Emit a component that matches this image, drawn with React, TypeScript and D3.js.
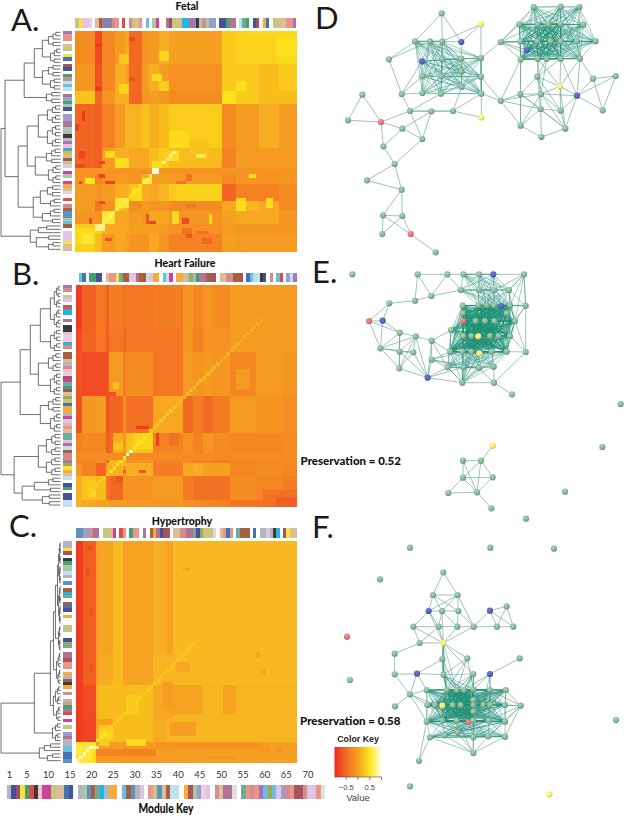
import React from "react";
import * as d3 from "d3";

// ---------- palette for module colour strips ----------
const paletteCodes: Record<string, string> = {
  a: "#a9adb8", n: "#2e3a8c", m: "#8c3a5e", y: "#f5e020", g: "#1f9a5a", r: "#d9352e", k: "#231f20",
  p: "#f3b5d0", c: "#c8288f", o: "#bfc06a", t: "#d8b48a", b: "#2860a8", s: "#5ab5e0", e: "#9fc0a0",
  l: "#b7dcec", w: "#ffffff", d: "#9a4a25", O: "#f5a020", C: "#00aee0", i: "#d9bfe0", h: "#d07b7e",
  v: "#a85f85", T: "#5f9f8d", G: "#8f9f3c", P: "#a05fb0", S: "#e8867a", R: "#9a3d45", A: "#dcdce0",
  M: "#efc8dc", Q: "#8c93c5", B: "#4a82b8",
};
const moduleKeyColors = "anmygrkpccottbnwaeBdTCaOOwsdBaiwSoBtdllwOReQMiwhtvvAwTShSPsGsiQhSRRhiiSA".split("");
const moduleTicks = [1, 5, 10, 15, 20, 25, 30, 35, 40, 45, 50, 55, 60, 65, 70];

const fetalTop = "oypiMwtdvBvhSwrwhotSwswecwwvmotoCCvPkeheQQwnngvvwlTgwnRwObwoottSSP".split("");
const fetalSide = "PSSwtowybwRnwghlslwvQgenwQQvveakePpCOoRoiwcewcOtMwrwhdBBesdwiiiytt".split("");
const failTop = "wsbwggnnwtSSyTddiivddliOOwslcwOOteGagvvdRRwtthhddRwbsllknwhwsrwQlP".split("");
const failSide = "PhwtiwrCCwvwkkiMMChwddtahpMRcTgRtGobOOacitStTTivldhhvGyOtlwngwnnll".split("");
const hyperTop = "BBQQhvvwootcwrSwgSSwvwdOvnRRwtthhvvTnGoooMwtSbSwTdddwbwaaiakCwRytt".split("");
const hyperSide = "aayRwkgeelawBwdCTwdbnwOwwoowwnGTwvvRSSwOadkOwhwaSgPrwcwowQvaassbbB".split("");

// ---------- heatmap values: block sizes (in cells) and values read by eye ----------
const fetalCols = [6, 2, 4, 3, 1, 4, 2, 3, 3, 16, 4, 7, 6, 5];
const fetalRows = [10, 8, 4, 13, 6, 2, 3, 5, 3, 4, 3, 5];
const fetalBlocks = [
  [-.2, -.75, -.25, -.05, .05, -.5, -.1, -.05, .1, .0, .3, .35, .35, .4],
  [-.1, -.7, -.25, .1, 0, -.5, -.05, .1, -.05, -.15, .3, .3, .2, .3],
  [.25, -.5, -.1, .1, .1, -.55, -.1, -.05, -.1, -.2, .42, .3, .2, .2],
  [-.55, -.6, -.3, -.05, .12, .15, .25, .1, .2, .32, -.2, -.05, .1, -.05],
  [-.55, -.6, -.05, .1, .1, .05, .05, .2, .3, .2, -.3, -.05, -.05, -.05],
  [-.1, -.2, -.1, .1, .1, -.05, -.05, .3, .3, -.1, -.2, -.1, -.1, -.1],
  [-.1, -.3, -.1, -.05, -.05, -.1, .05, -.05, .0, -.05, -.2, -.1, -.15, -.1],
  [-.05, -.1, -.05, .1, .1, .25, .1, .05, .15, .28, -.55, -.3, -.3, -.2],
  [-.05, -.4, -.15, .25, .1, -.2, -.05, -.1, -.1, -.2, .05, .15, .05, -.2],
  [-.1, -.15, .2, .05, .05, -.05, -.1, .05, .05, -.1, 0, .05, .05, -.1],
  [.3, .35, .05, .05, .05, .0, .0, .0, -.05, -.15, -.05, -.1, -.1, -.1],
  [.35, .2, -.05, .05, .0, -.1, -.15, .05, -.1, -.3, .0, -.05, -.05, -.05],
];
// patches: first row, row count, first column, column count, value
const fetalPatches = [
  [6, 3, 25, 3, .38], [13, 2, 23, 3, .42], [7, 3, 13, 3, .28], [16, 3, 13, 3, .36], [15, 3, 25, 3, .32],
  [18, 4, 44, 4, .48], [15, 3, 48, 3, .45], [0, 2, 52, 14, .4], [2, 6, 60, 6, .45], [36, 2, 9, 3, .42],
  [38, 3, 12, 4, .45], [44, 2, 3, 3, .5], [44, 2, 20, 3, .55], [47, 4, 17, 3, .42], [50, 3, 12, 4, .55],
  [54, 4, 8, 4, .55], [54, 4, 29, 2, .42], [55, 3, 40, 1, .45], [50, 4, 48, 3, .42], [50, 3, 57, 2, .42],
  [41, 3, 52, 2, .45], [39, 3, 23, 3, .42], [36, 3, 28, 3, .45], [37, 1, 36, 3, .6], [30, 5, 28, 6, .42],
  [33, 4, 34, 6, .25], [59, 5, 0, 6, .42], [61, 3, 2, 3, .55], [58, 2, 6, 3, .75], [46, 5, 30, 14, .36],
  [56, 2, 32, 2, -.75], [61, 1, 33, 2, -.7], [62, 2, 38, 3, -.55], [57, 1, 21, 3, -.8], [56, 2, 4, 1, -.75],
  [45, 1, 9, 3, -.8], [51, 1, 7, 2, -.75], [43, 1, 7, 2, -.8], [45, 1, 1, 1, -.8], [36, 2, 1, 2, -.8],
  [39, 1, 7, 2, -.8], [62, 1, 9, 2, -.7], [55, 3, 21, 1, -.7], [59, 2, 32, 3, -.45], [40, 2, 0, 3, -.75],
  [43, 2, 33, 2, -.45], [45, 1, 30, 3, -.4], [52, 1, 33, 3, -.4], [2, 1, 16, 2, -.8], [14, 1, 16, 2, -.7],
  [4, 1, 6, 2, -.9], [17, 1, 6, 2, -.9], [24, 3, 2, 1, -.85], [28, 2, 0, 1, -.85], [60, 1, 36, 4, -.45],
  [41, 1, 0, 66, -.1], [42, 1, 0, 66, -.15],
  [41, 2, 23, 2, .95],
];
// anti-diagonal runs: first column, last column, value
const fetalDiagonal = [[6, 8, .8], [8, 12, .7], [12, 16, .65], [16, 20, .5], [20, 23, .7], [23, 25, 1], [26, 30, .8]];

const failCols = [2, 4, 3, 1, 4, 1, 8, 9, 3, 3, 3, 5, 8, 8, 4];
const failRows = [13, 7, 13, 11, 6, 3, 4, 7, 2];
const failBlocks = [
  [-.85, -.6, -.4, -.6, -.35, -.45, -.4, -.35, -.15, -.25, -.12, -.2, -.05, -.05, -.05],
  [-.75, -.55, -.4, -.6, -.4, -.5, -.4, -.4, -.1, -.3, -.15, -.15, -.05, -.05, -.05],
  [-.7, -.75, -.75, -.7, -.05, -.35, -.2, -.4, -.05, -.1, -.05, -.1, -.25, -.05, -.1],
  [-.7, -.1, -.05, -.7, -.55, -.2, -.45, .05, -.5, -.35, -.5, -.35, -.05, -.12, -.18],
  [-.3, -.25, -.25, -.6, .1, -.1, .25, -.3, -.15, -.3, -.1, -.2, -.25, -.25, -.2],
  [-.25, -.25, -.2, -.5, -.1, -.1, -.1, -.3, -.2, -.3, -.25, -.35, -.25, -.25, -.2],
  [-.1, -.3, -.55, .05, .1, -.15, .1, -.35, .05, .1, .0, .0, -.25, -.2, -.25],
  [.12, .25, .2, -.4, -.5, -.1, -.15, -.05, -.35, -.45, -.45, -.45, -.2, -.25, -.35],
  [.1, .05, .0, .05, -.05, -.05, -.05, -.1, -.15, -.2, -.25, -.3, -.4, -.45, -.6],
];
const failPatches = [
  [44, 5, 17, 6, .35], [42, 1, 18, 4, -.85], [44, 4, 24, 1, -.85], [50, 1, 26, 1, -.75], [50, 1, 29, 1, -.75],
  [50, 1, 36, 2, -.6], [55, 1, 19, 2, -.65], [55, 1, 14, 1, -.65], [44, 6, 10, 1, -.5], [50, 1, 9, 1, -.7],
  [44, 4, 28, 3, -.45], [50, 2, 0, 66, -.2], [58, 5, 3, 3, .3], [60, 3, 4, 2, .4], [47, 2, 11, 3, .25],
  [53, 3, 3, 3, -.3], [32, 1, 9, 3, -.7], [29, 2, 11, 2, .2], [52, 2, 10, 5, .15], [61, 4, 56, 10, -.45],
  [63, 3, 60, 6, -.6], [25, 6, 48, 4, -.05], [57, 2, 12, 2, -.7],
];
const failDiagonal = [[4, 10, .3], [10, 15, .45], [15, 17, .95], [17, 22, .5], [22, 30, .32], [30, 42, .2], [42, 56, .12]];

const hyperCols = [2, 4, 1, 4, 3, 9, 4, 2, 37];
const hyperRows = [34, 9, 10, 7, 6];
const hyperBlocks = [
  [-.85, -.6, -.03, .02, .17, .02, .1, .02, .17],
  [-.85, -.6, -.02, .08, .17, .02, .14, .14, .17],
  [-.85, -.75, .12, .2, .2, .2, .05, .02, .15],
  [-.85, -.8, .08, .28, .2, .2, .08, .14, .15],
  [.5, .4, -.03, -.03, -.03, -.08, -.03, -.03, .0],
];
const hyperPatches = [
  [43, 9, 29, 9, .02], [43, 9, 44, 4, .02], [56, 3, 7, 4, .38], [59, 2, 15, 6, .42], [59, 2, 7, 3, .3],
  [60, 2, 24, 32, -.12], [62, 2, 6, 18, -.3], [53, 2, 6, 5, -.03], [60, 6, 0, 5, .55], [61, 1, 4, 3, .8],
  [54, 4, 28, 8, -.03], [42, 8, 26, 3, -.03], [46, 6, 15, 4, .3], [36, 3, 30, 4, .05], [37, 2, 4, 1, -.7],
  [8, 1, 32, 2, .02], [33, 2, 54, 1, .02], [38, 2, 55, 2, .02], [61, 2, 56, 2, -.1], [61, 2, 60, 2, -.1],
  [64, 1, 40, 8, -.1], [1, 2, 3, 2, -.7], [20, 2, 4, 1, -.7], [8, 2, 3, 1, -.75],
];
const hyperDiagonal = [[0, 5, .95], [5, 9, .55], [9, 16, .35], [16, 24, .32], [24, 36, .28]];

// ---------- dendrograms: [merge position, children...] ; [merge position, leaf count] ----------
const fetalTree: any = [1, [5, [24, [34, [42, [48, 5], [50, 5]], [42, [48, 4], [50, 4]]], [46, 4]],
  [18, [27, [38, [47, 6], [47, 7]], [35, [46, 5], [48, 6]]], [33, [40, [47, 4], [50, 3]], [42, [50, 3], [52, 2]]]]],
  [30, [38, 3], [36, [48, 2], [48, 3]]]];
const failTree: any = [1, [20, [30, [40, [50, 13], [50, 7]], [38, [48, 6], [50, 7]]], [40, [48, 5], [50, 6]]],
  [14, [38, [46, 7], [46, 6]], [22, [34, [48, 3], [50, 2]], [42, 4]]]];
const hyperTree: any = [1, [34, [50, [53, [55, [57, 25], [58, 8]], [56, 10]], [53, [55, 6], [56, 5]]], [52, 6]],
  [39, [44, 3], [47, 3]]];

// ---------- networks: node positions in crop units, colour class, edges ----------
const nodeColors: Record<string, string> = { g: "#84b394", b: "#5a62b4", r: "#e0757c", y: "#f6ea70" };

const dX = [395,513,315,360,397,454,237,336,396,454,513,337,395,454,513,275,337,393,455,514,300,364,429,514,157,114,213,277,337,220,254,171,275,219,277,217,302,377,572,572,671,752,808,628,683,715,752,820,631,682,722,752,800,857,650,632,683,710,752,810,682,849,917,750,631,693,801,878,692,752,632,766,694];
const dY = [40,73,124,124,124,126,178,184,178,176,174,229,229,214,230,282,279,281,261,281,333,334,333,352,284,361,366,386,417,439,492,541,569,646,648,702,702,757,126,302,21,20,21,73,73,73,72,74,124,124,124,124,124,124,150,178,176,176,176,176,230,236,228,259,282,282,287,331,327,332,377,386,411];
const dKindsFixed = dX.map((_, i) => (i === 5 || i === 7 || i === 54 || i === 66 ? "b" : i === 26 || i === 36 ? "r" : i === 1 || i === 23 || i === 63 ? "y" : "g"));
const dEdges = [[0,2],[0,4],[0,5],[1,5],[1,10],[1,4],[2,3],[3,4],[4,5],[5,9],[2,6],[6,3],[6,15],[15,20],[15,16],[15,7],[15,11],[20,21],[20,22],[20,26],[20,17],[21,22],[22,19],[22,18],[21,28],[27,21],[26,27],[26,25],[26,24],[24,25],[26,29],[27,29],[27,28],[20,28],[29,30],[28,30],[30,31],[30,32],[31,32],[32,33],[32,34],[33,34],[33,35],[33,36],[34,36],[35,34],[36,37],[19,23],[10,14],[14,19],[10,38],[19,39],[14,39],[10,19],[22,23],[38,40],[38,43],[38,48],[38,49],[38,50],[38,51],[38,55],[38,56],[38,54],[38,44],[39,55],[39,64],[39,65],[39,70],[39,68],[55,64],[55,70],[56,60],[60,65],[60,64],[64,65],[65,66],[63,66],[65,63],[64,68],[64,70],[64,71],[65,68],[65,69],[65,70],[65,71],[68,69],[68,70],[68,71],[68,72],[69,71],[70,72],[71,72],[69,66],[66,71],[63,69],[63,71],[60,63],[58,63],[56,63],[59,61],[59,63],[61,62],[61,66],[61,67],[62,66],[62,67],[66,67],[59,66],[52,59],[58,66],[60,69],[60,68],[57,65],[56,65],[57,60],[58,60]];
const dGroups = [[2,3,4,7,8,9,10,11,12,13,14,16,17,18,19],[40,41,42,43,44,45,46,47,48,49,50,51,52,53,54,55,56,57,58,59]];
const dCores = [[43,44,45,46,49,50,51,56,57,58,48,55]];

const eX = [127,323,412,460,507,550,642,452,507,552,597,364,315,238,505,530,552,574,600,647,458,458,177,218,460,497,525,553,590,615,423,269,317,365,460,484,505,540,565,600,211,269,310,365,420,457,484,508,545,590,647,268,353,413,460,507,551,457,552,606,932,877,765,648,548,459,513,459,548,415,501,544];
const eY = [43,43,43,43,43,43,43,90,90,90,90,108,122,130,136,136,136,138,136,137,137,160,183,182,183,183,183,183,160,183,210,218,229,242,228,228,229,228,228,228,265,275,277,299,275,275,275,280,275,275,276,325,353,322,322,324,320,368,368,403,432,561,695,776,557,602,602,653,652,699,697,745];
const eKindsFixed = eX.map((_, i) => (i === 5 || i === 17 || i === 23 || i === 52 ? "b" : i === 22 || i === 24 ? "r" : i === 36 || i === 47 || i === 64 ? "y" : "g"));
const eEdges = [[1,2],[2,3],[3,4],[4,5],[5,6],[1,12],[1,11],[2,11],[2,7],[7,11],[11,12],[12,13],[13,22],[13,23],[22,23],[22,40],[22,31],[23,31],[23,40],[31,32],[31,40],[31,41],[31,51],[32,33],[32,42],[32,41],[32,40],[32,51],[32,52],[40,41],[40,42],[40,51],[41,42],[41,51],[41,52],[42,51],[42,52],[43,52],[33,43],[33,52],[33,53],[33,44],[33,30],[43,53],[43,44],[43,54],[51,52],[52,57],[52,53],[52,54],[53,57],[54,57],[55,57],[56,58],[57,58],[58,59],[55,58],[50,58],[6,10],[6,19],[6,9],[19,18],[19,17],[19,29],[19,50],[29,50],[49,50],[39,50],[24,30],[30,53],[30,44],[43,45],[43,55],[65,66],[65,67],[65,70],[66,67],[66,68],[66,70],[67,68],[67,69],[67,70],[68,70],[69,70],[70,71],[66,64]];
const eGroups = [[14,15,16,17,18,20,21,24,25,26,27,28,29,30,34,35,36,37,38,39,44,45,46,47,48,49],[3,4,5,7,8,9,10,14,15,16,17,18],[44,45,46,47,48,49,53,54,55,56,57,34,35,36,37],[6,10,18,19,29]];
const eCores = [[20,21,24,25,26,27,29,34,35,36,37,38,39,14,15,16,18,44,46,48,49]];

const fX = [400,369,443,356,396,445,540,590,310,386,442,491,561,610,329,400,254,397,472,629,254,321,400,490,540,350,410,440,462,490,540,587,300,255,352,375,397,428,452,490,490,490,520,540,585,632,350,397,440,475,490,536,585,360,404,443,490,535,585,490,327,300,541,732,210,111,120,918,300,718];
const fY = [127,195,195,243,243,243,242,229,290,290,290,290,290,290,339,339,371,387,385,385,433,431,434,432,432,480,480,480,480,478,480,480,493,529,525,525,527,525,525,510,525,545,525,525,525,527,575,572,572,576,572,572,575,622,616,607,622,619,620,669,693,53,53,56,148,320,450,570,769,793];
const fKindsFixed = fX.map((_, i) => (i === 3 || i === 6 || i === 21 || i === 24 ? "b" : i === 49 || i === 65 ? "r" : i === 15 || i === 36 || i === 69 ? "y" : "g"));
const fEdges = [[0,1],[0,2],[1,2],[1,3],[1,4],[1,5],[2,3],[2,4],[2,5],[2,11],[3,4],[4,5],[3,8],[3,9],[4,9],[4,10],[5,10],[5,11],[8,9],[9,10],[10,11],[11,12],[12,13],[11,6],[6,7],[6,12],[6,13],[7,12],[7,13],[8,14],[9,14],[9,15],[10,15],[11,15],[8,15],[14,15],[4,15],[3,15],[14,16],[16,20],[20,21],[21,22],[15,17],[15,22],[15,23],[15,18],[17,22],[17,21],[19,24],[20,32],[21,32],[21,25],[32,25],[32,34],[32,46],[32,35],[33,32],[22,26],[22,27],[22,28],[18,26],[18,27],[18,29],[18,22],[23,27],[23,28],[23,29],[24,29],[24,30],[24,28],[24,42],[24,43],[45,30],[45,31],[45,43],[45,44],[45,51],[45,52],[45,57],[45,58],[59,53],[59,54],[59,55],[59,56],[59,57],[59,58],[59,48],[59,50],[60,53],[60,46],[43,31]];
const fGroups = [[25,26,27,28,29,30,31,34,35,36,37,38,39,40,41,42,43,44,46,47,48,49,50,51,52],[46,47,48,49,50,51,52,53,54,55,56,57,58],[22,23,26,27,28,29,37,38,39],[15,17,22,26,27]];
const fCores = [[26,27,28,29,36,37,38,39,40,41,47,48,49,50,35]];

const colorKeyTicks = [-0.5, 0, 0.5, 1];
const colorKeyLabels = [-0.5, 0.5];

// ---------- scales and helpers ----------
const heat = d3.scaleLinear<string>()
  .domain([-1, -.6, -.3, 0, .25, .5, .75, 1])
  .range(["#ed2a24", "#f15f24", "#f58220", "#f6a021", "#f9c31f", "#fee61e", "#fef27a", "#fffde8"])
  .clamp(true);

function expand(sizes: number[]) {
  const out: number[] = [];
  sizes.forEach((s, i) => { for (let k = 0; k < s; k++) out.push(i); });
  return out;
}

function buildCells(rows: number[], cols: number[], blocks: number[][], patches: number[][], diag: number[][]) {
  const R = expand(rows), C = expand(cols);
  const m = R.map((r) => C.map((c) => blocks[r][c]));
  patches.forEach(([r0, rn, c0, cn, v]) => {
    for (let r = r0; r < Math.min(66, r0 + rn); r++) for (let c = c0; c < Math.min(66, c0 + cn); c++) m[r][c] = v;
  });
  diag.forEach(([c0, c1, v]) => { for (let c = c0; c < c1; c++) m[65 - c][c] = v; });
  return m;
}

function toTree(spec: any): any {
  const [x, ...kids] = spec;
  if (kids.length === 1 && typeof kids[0] === "number") return split(kids[0], x);
  return { x, children: kids.map(toTree) };
}
function split(n: number, x: number): any {
  if (n === 1) return { x: 60 };
  const nx = Math.min(59.5, x + Math.max((60 - x) * 0.38, 0.6));
  return { x, children: [split(Math.ceil(n / 2), nx), split(Math.floor(n / 2), nx)] };
}

function Dendrogram({ spec, y0, y1 }: { spec: any; y0: number; y1: number }) {
  const root = d3.hierarchy(toTree(spec));
  const band = d3.scaleBand<number>().domain(d3.range(66)).range([y0, y1]);
  const xs = d3.scaleLinear().domain([0, 60]).range([0, 60.5]);
  let leaf = 0;
  const pos = new Map<any, number>();
  root.eachAfter((n: any) => {
    if (!n.children) pos.set(n, band(leaf++)! + band.bandwidth() / 2);
    else pos.set(n, (pos.get(n.children[0]) + pos.get(n.children[n.children.length - 1])) / 2);
  });
  const path = d3.path();
  root.each((n: any) => {
    if (!n.children) return;
    const px = xs(n.data.x);
    const ys = n.children.map((c: any) => pos.get(c));
    path.moveTo(px, d3.min(ys) as number);
    path.lineTo(px, d3.max(ys) as number);
    n.children.forEach((c: any) => {
      path.moveTo(px, pos.get(c));
      path.lineTo(xs(c.data.x), pos.get(c));
    });
  });
  return <path d={path.toString()} fill="none" stroke="#333" strokeWidth={0.7} />;
}

function Strip({ colors, horizontal, x0, x1, y0, y1 }: { colors: string[]; horizontal: boolean; x0: number; x1: number; y0: number; y1: number }) {
  const band = d3.scaleBand<number>().domain(d3.range(colors.length)).range(horizontal ? [x0, x1] : [y0, y1]);
  return (
    <g shapeRendering="crispEdges" style={{ opacity: 0.88 }}>
      {colors.map((c, i) => horizontal
        ? <rect key={i} x={band(i)} y={y0} width={band.bandwidth() + 0.4} height={y1 - y0} fill={paletteCodes[c]} />
        : <rect key={i} x={x0} y={band(i)} width={x1 - x0} height={band.bandwidth() + 0.4} fill={paletteCodes[c]} />)}
    </g>
  );
}

function Heat({ m, x0, x1, y0, y1 }: { m: number[][]; x0: number; x1: number; y0: number; y1: number }) {
  const xb = d3.scaleBand<number>().domain(d3.range(66)).range([x0, x1]);
  const yb = d3.scaleBand<number>().domain(d3.range(66)).range([y0, y1]);
  return (
    <g shapeRendering="crispEdges" filter="url(#soft)">
      {m.flatMap((row, r) => row.map((v, c) => (
        <rect key={`${r}-${c}`} x={xb(c)} y={yb(r)} width={xb.bandwidth() + 0.5} height={yb.bandwidth() + 0.5} fill={heat(v)} />
      )))}
    </g>
  );
}

function Network({ xs, ys, kinds, edges, groups, cores, ox, oy }: any) {
  const sx = d3.scaleLinear().domain([0, 942]).range([ox, ox + 314]);
  const sy = d3.scaleLinear().domain([0, 780]).range([oy, oy + 260]);
  const pairs = (list: number[]) => d3.cross(list, list).filter(([a, b]) => a < b);
  const line = (pairsList: number[][]) => {
    const p = d3.path();
    pairsList.forEach(([a, b]) => { p.moveTo(sx(xs[a]), sy(ys[a])); p.lineTo(sx(xs[b]), sy(ys[b])); });
    return p.toString();
  };
  return (
    <g>
      <path d={line(edges)} fill="none" stroke="#5f9a8c" strokeWidth={0.6} />
      <path d={line(groups.flatMap(pairs))} fill="none" stroke="#23907a" strokeWidth={0.5} strokeOpacity={0.85} />
      <path d={line(cores.flatMap(pairs))} fill="none" stroke="#1a9174" strokeWidth={0.5} strokeOpacity={0.8} />
      {xs.map((x: number, i: number) => (
        <circle key={i} cx={sx(x)} cy={sy(ys[i])} r={3.1} fill={`url(#ball-${kinds[i]})`} />
      ))}
    </g>
  );
}

const fetalM = buildCells(fetalRows, fetalCols, fetalBlocks, fetalPatches, fetalDiagonal);
const failM = buildCells(failRows, failCols, failBlocks, failPatches, failDiagonal);
const hyperM = buildCells(hyperRows, hyperCols, hyperBlocks, hyperPatches, hyperDiagonal);

const LETTER = "Lato, 'Open Sans', sans-serif";
const panelLetters = [
  ["A.", 11, 30.5], ["B.", 12, 285], ["C.", 9, 537], ["D", 315, 29], ["E.", 312, 283], ["F.", 312, 538],
] as const;

export default function App() {
  const keyBand = d3.scaleBand<number>().domain(d3.range(moduleKeyColors.length)).range([7, 325]);
  const tickX = d3.scaleLinear().domain([1, 70]).range([9.5, 308]);
  const keyX = d3.scaleLinear().domain([-1, 1]).range([334.5, 381.5]);
  return (
    <svg width={624} height={816} viewBox="0 0 624 816" style={{ position: "absolute", left: 0, top: 0, background: "#fff" }}>
      <defs>
        <filter id="soft" x="0" y="0" width="1" height="1"><feGaussianBlur stdDeviation="0.45" /></filter>
        {Object.entries(nodeColors).map(([k, c]) => (
          <radialGradient id={`ball-${k}`} key={k} cx="0.4" cy="0.35" r="0.7">
            <stop offset="0" stopColor={d3.color(c)!.brighter(0.6).formatHex()} />
            <stop offset="0.6" stopColor={c} />
            <stop offset="1" stopColor={d3.color(c)!.darker(0.8).formatHex()} />
          </radialGradient>
        ))}
        <linearGradient id="keyGrad">
          {d3.range(0, 1.01, 0.05).map((t) => <stop key={t} offset={t} stopColor={heat(-1 + 2 * t)} />)}
        </linearGradient>
      </defs>

      {panelLetters.map(([t, x, y]) => (
        <text key={t} x={x} y={y} fontFamily={LETTER} fontWeight={400} fontSize={31} fill="#1a1a1a">{t}</text>
      ))}

      <g fontFamily={LETTER} fontWeight={900} fill="#111" textAnchor="middle" fontSize={10.5}>
        <text x={187} y={10}>Fetal</text>
        <text x={185} y={267}>Heart Failure</text>
        <text x={182} y={525}>Hypertrophy</text>
        <text x={166} y={813} fontSize={13} textLength={55} lengthAdjust="spacingAndGlyphs">Module Key</text>
      </g>
      <g fontFamily={LETTER} fontWeight={900} fill="#111" fontSize={11.5}>
        <text x={300.5} y={465}>Preservation = 0.52</text>
        <text x={300} y={725}>Preservation = 0.58</text>
      </g>

      <Strip colors={fetalTop} horizontal x0={75.3} x1={296} y0={18} y1={27.5} />
      <Strip colors={fetalSide} horizontal={false} x0={62.5} x1={72} y0={30.7} y1={251} />
      <Heat m={fetalM} x0={75.3} x1={296} y0={30.7} y1={251} />
      <Dendrogram spec={fetalTree} y0={30.7} y1={251} />

      <Strip colors={failTop} horizontal x0={75.7} x1={296.5} y0={272.7} y1={282} />
      <Strip colors={failSide} horizontal={false} x0={62.5} x1={72} y0={285} y1={506.7} />
      <Heat m={failM} x0={75.7} x1={296.5} y0={285} y1={506.7} />
      <Dendrogram spec={failTree} y0={285} y1={506.7} />

      <Strip colors={hyperTop} horizontal x0={76} x1={296.5} y0={528.3} y1={537.7} />
      <Strip colors={hyperSide} horizontal={false} x0={62.5} x1={72} y0={541.3} y1={762.3} />
      <Heat m={hyperM} x0={76} x1={296.5} y0={541.3} y1={762.3} />
      <Dendrogram spec={hyperTree} y0={541.3} y1={762.3} />

      <g fontFamily={LETTER} fontWeight={400} fontSize={9.5} fill="#333" textAnchor="middle">
        {moduleTicks.map((t) => <text key={t} x={tickX(t)} y={778}>{t}</text>)}
      </g>
      <g shapeRendering="crispEdges" style={{ opacity: 0.88 }}>
        {moduleKeyColors.map((c, i) => (
          <rect key={i} x={keyBand(i)} y={785} width={keyBand.bandwidth() + 0.4} height={14} fill={paletteCodes[c]} />
        ))}
      </g>

      <Network xs={dX} ys={dY} kinds={dKindsFixed} edges={dEdges} groups={dGroups} cores={dCores} ox={310} oy={0} />
      <Network xs={eX} ys={eY} kinds={eKindsFixed} edges={eEdges} groups={eGroups} cores={eCores} ox={310} oy={260} />
      <Network xs={fX} ys={fY} kinds={fKindsFixed} edges={fEdges} groups={fGroups} cores={fCores} ox={310} oy={530} />

      <text x={358} y={742} textAnchor="middle" fontFamily="Liberation Sans, sans-serif" fontWeight={700} fontSize={8.8} fill="#222">Color Key</text>
      <rect x={keyX(-1)} y={747} width={keyX(1) - keyX(-1)} height={30} fill="url(#keyGrad)" />
      <path d={`M${keyX(-1)},777H${keyX(1)}`} stroke="#444" strokeWidth={0.6} />
      {colorKeyTicks.map((t) => (
        <path key={t} d={`M${keyX(t)},777V780`} stroke="#333" strokeWidth={0.6} />
      ))}
      {colorKeyLabels.map((t) => (
        <text key={t} x={keyX(t)} y={790} textAnchor="middle" fontFamily="Liberation Sans, sans-serif" fontSize={7.5} fill="#444">
          {t < 0 ? `\u2212${-t}` : t}
        </text>
      ))}
      <text x={358} y={801} textAnchor="middle" fontFamily="Liberation Sans, sans-serif" fontSize={9.5} fill="#444">Value</text>
    </svg>
  );
}
